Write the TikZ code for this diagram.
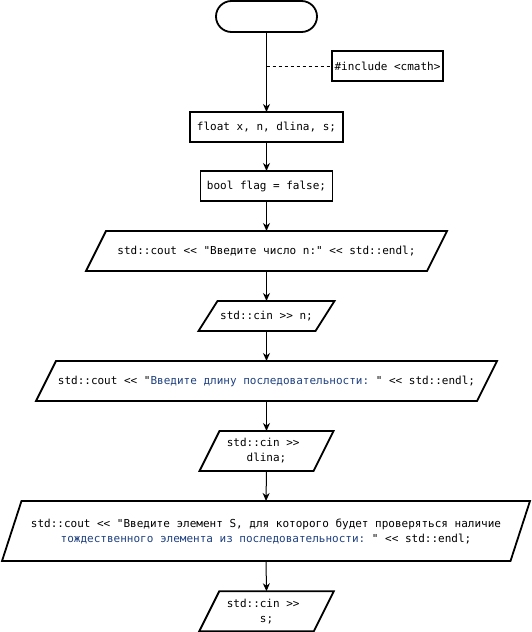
\documentclass[tikz,border=0pt]{standalone}
\usepackage{fontspec}
\setmonofont{DejaVu Sans Mono}
\usetikzlibrary{arrows.meta,calc}
\definecolor{codeblue}{HTML}{1F4080}
\tikzset{
  txt/.style={font=\ttfamily\fontsize{11}{15}\selectfont, inner sep=0pt, outer sep=0pt, align=center},
  boxnode/.style={txt, draw, line width=1.8pt, minimum height=30pt},
  flow/.style={-{Stealth[length=8pt,width=7pt,inset=2.5pt]}, line width=1pt},
  outline/.style={line width=1.8pt, line join=miter},
  note/.style={dash pattern=on 3pt off 3pt, line width=1pt}
}
\newcommand\mypgram[2]{\draw[outline] ($(#1.north west)+(#2,0)$) -- (#1.north east) -- ($(#1.south east)-(#2,0)$) -- (#1.south west) -- cycle;}
\begin{document}
\begin{tikzpicture}[x=1pt,y=-1pt]
\useasboundingbox (0,0) rectangle (532,632);
\node[txt, draw, line width=1.8pt, rounded corners=15.5pt, minimum width=101pt, minimum height=31pt] (start) at (266.5,16.5) {};
\node[boxnode, minimum width=111pt] (inc) at (387.5,66) {\#include <cmath>};
\node[boxnode, minimum width=153pt] (decl) at (266.5,127) {float x, n, dlina, s;};
\node[boxnode, minimum width=132pt] (flag) at (266.5,186) {bool flag = false;};
\node[txt, minimum width=361pt, minimum height=40pt] (out1) at (266.5,251) {std::cout << "Введите число n:" << std::endl;};
\mypgram{out1}{20}
\node[txt, minimum width=136pt, minimum height=30pt] (in1) at (266.5,316) {std::cin >> n;};
\mypgram{in1}{19}
\node[txt, minimum width=461pt, minimum height=40pt] (out2) at (266.5,381) {std::cout << "\textcolor{codeblue}{Введите длину последовательности: }" << std::endl;};
\mypgram{out2}{20}
\node[txt, minimum width=134pt, minimum height=40pt] (in2) at (266.5,451) {std::cin >>\hphantom{x}\\dlina;};
\mypgram{in2}{20}
\node[txt, minimum width=528pt, minimum height=60pt] (out3) at (266,531) {std::cout << "Введите элемент S, для которого будет проверяться наличие\\\textcolor{codeblue}{тождественного элемента из последовательности: }" << std::endl;};
\mypgram{out3}{19.5}
\node[txt, minimum width=134.5pt, minimum height=40pt] (in3) at (266.5,611.25) {std::cin >>\hphantom{x}\\s;};
\mypgram{in3}{20}
\coordinate (tap) at (266.5,66);
\draw[flow] (start.south) -- (decl.north);
\draw[note] (tap) -- (inc.west);
\draw[flow] (decl.south) -- (flag.north);
\draw[flow] (flag.south) -- (out1.north);
\draw[flow] (out1.south) -- (in1.north);
\draw[flow] (in1.south) -- (out2.north);
\draw[flow] (out2.south) -- (in2.north);
\draw[flow] (in2.south) -- (out3.north);
\draw[flow] (out3.south) -- (in3.north);
\end{tikzpicture}
\end{document}
